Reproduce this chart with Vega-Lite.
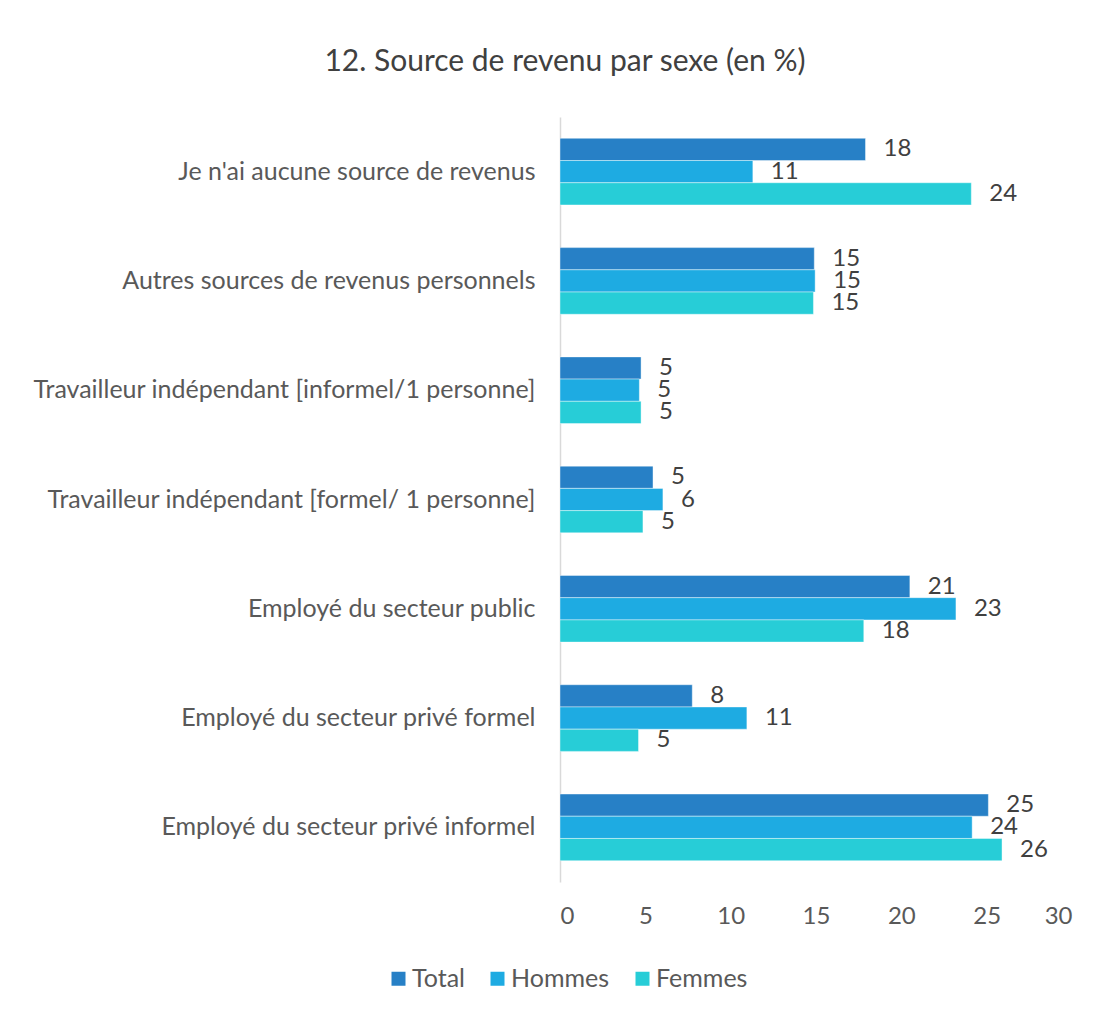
{
  "$schema": "https://vega.github.io/schema/vega-lite/v6.json",
  "width": 512,
  "height": 765,
  "autosize": "none",
  "padding": {"left": 560, "top": 117, "right": 32, "bottom": 134},
  "background": "white",
  "title": {
    "text": "12. Source de revenu par sexe (en %)",
    "fontSize": 30,
    "font": "Lato",
    "fontWeight": "normal",
    "color": "#404040",
    "anchor": "middle",
    "dx": -251,
    "offset": 40
  },
  "config": {
    "view": {"stroke": null},
    "font": "Lato"
  },
  "data": {
    "values": [
      {"source": "Je n'ai aucune source de revenus", "sexe": "Total", "valeur": 17.9},
      {"source": "Je n'ai aucune source de revenus", "sexe": "Hommes", "valeur": 11.3},
      {"source": "Je n'ai aucune source de revenus", "sexe": "Femmes", "valeur": 24.1},
      {"source": "Autres sources de revenus personnels", "sexe": "Total", "valeur": 14.9},
      {"source": "Autres sources de revenus personnels", "sexe": "Hommes", "valeur": 14.95},
      {"source": "Autres sources de revenus personnels", "sexe": "Femmes", "valeur": 14.85},
      {"source": "Travailleur indépendant [informel/1 personne]", "sexe": "Total", "valeur": 4.75},
      {"source": "Travailleur indépendant [informel/1 personne]", "sexe": "Hommes", "valeur": 4.65},
      {"source": "Travailleur indépendant [informel/1 personne]", "sexe": "Femmes", "valeur": 4.75},
      {"source": "Travailleur indépendant [formel/ 1 personne]", "sexe": "Total", "valeur": 5.45},
      {"source": "Travailleur indépendant [formel/ 1 personne]", "sexe": "Hommes", "valeur": 6.03},
      {"source": "Travailleur indépendant [formel/ 1 personne]", "sexe": "Femmes", "valeur": 4.86},
      {"source": "Employé du secteur public", "sexe": "Total", "valeur": 20.5},
      {"source": "Employé du secteur public", "sexe": "Hommes", "valeur": 23.2},
      {"source": "Employé du secteur public", "sexe": "Femmes", "valeur": 17.8},
      {"source": "Employé du secteur privé formel", "sexe": "Total", "valeur": 7.75},
      {"source": "Employé du secteur privé formel", "sexe": "Hommes", "valeur": 10.95},
      {"source": "Employé du secteur privé formel", "sexe": "Femmes", "valeur": 4.6},
      {"source": "Employé du secteur privé informel", "sexe": "Total", "valeur": 25.1},
      {"source": "Employé du secteur privé informel", "sexe": "Hommes", "valeur": 24.15},
      {"source": "Employé du secteur privé informel", "sexe": "Femmes", "valeur": 25.9}
    ]
  },
  "encoding": {
    "y": {
      "field": "source",
      "type": "nominal",
      "sort": [
        "Je n'ai aucune source de revenus",
        "Autres sources de revenus personnels",
        "Travailleur indépendant [informel/1 personne]",
        "Travailleur indépendant [formel/ 1 personne]",
        "Employé du secteur public",
        "Employé du secteur privé formel",
        "Employé du secteur privé informel"
      ],
      "scale": {"paddingInner": 0.39, "paddingOuter": 0.195},
      "axis": {
        "title": null,
        "ticks": false,
        "domainColor": "#D9D9D9",
        "domainWidth": 1.5,
        "labelFontSize": 25,
        "labelColor": "#595959",
        "labelPadding": 25,
        "labelLimit": 600
      }
    },
    "yOffset": {
      "field": "sexe",
      "type": "nominal",
      "sort": ["Total", "Hommes", "Femmes"],
      "scale": {"paddingInner": 0, "paddingOuter": 0}
    },
    "x": {
      "field": "valeur",
      "type": "quantitative",
      "scale": {"domain": [0, 30], "nice": false},
      "axis": {
        "title": null,
        "values": [0, 5, 10, 15, 20, 25, 30],
        "domain": false,
        "ticks": false,
        "grid": false,
        "labelFontSize": 24,
        "labelColor": "#595959",
        "labelPadding": 22
      }
    }
  },
  "layer": [
    {
      "mark": {"type": "bar", "stroke": "white", "strokeWidth": 0.7, "strokeOpacity": 0.6},
      "encoding": {
        "color": {
          "field": "sexe",
          "type": "nominal",
          "sort": ["Total", "Hommes", "Femmes"],
          "scale": {
            "domain": ["Total", "Hommes", "Femmes"],
            "range": ["#2780C6", "#1EABE2", "#27CDD7"]
          },
          "legend": {
            "title": null,
            "orient": "none",
            "direction": "horizontal",
            "legendX": -174,
            "legendY": 849,
            "symbolType": "square",
            "symbolSize": 196,
            "symbolStrokeWidth": 0,
            "labelFontSize": 25,
            "labelColor": "#595959",
            "columnPadding": 20,
            "symbolOffset": 0,
            "labelOffset": 1
          }
        }
      }
    },
    {
      "mark": {"type": "text", "align": "left", "baseline": "middle", "dx": 18, "fontSize": 24, "color": "#404040"},
      "encoding": {
        "text": {"field": "valeur", "type": "quantitative", "format": ".0f"}
      }
    }
  ]
}
